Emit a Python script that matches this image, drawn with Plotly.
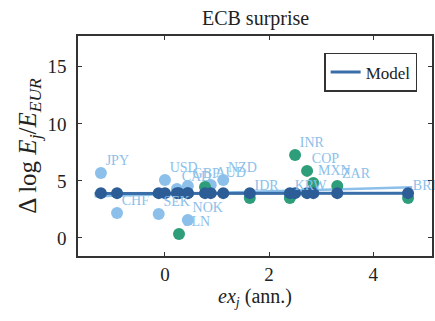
import plotly.graph_objects as go

# Developed-market currencies (light blue)
dm_names = ["JPY", "CHF", "SEK", "USD", "CAD", "GBP", "NOK", "AUD", "NZD"]
dm_x = [-1.23, -0.92, -0.12, 0.00, 0.23, 0.44, 0.44, 0.88, 1.12]
dm_y = [5.70, 2.19, 2.11, 5.09, 4.30, 4.56, 1.58, 4.65, 5.09]

# Emerging-market currencies (green)
em_names = ["PLN", "", "IDR", "KRW", "INR", "COP", "MXN", "ZAR", "BRL"]
em_x = [0.27, 0.77, 1.63, 2.40, 2.50, 2.73, 2.85, 3.31, 4.67]
em_y = [0.35, 4.47, 3.51, 3.51, 7.28, 5.88, 4.82, 4.56, 3.51]

# Model predictions (dark blue)
model_y_level = 3.93

# Fitted lines (endpoints)
line_x = [-1.35, 4.75]
model_line_y = [3.90, 3.93]
data_line_y = [3.65, 4.45]

C_LIGHT = "#8cc0ea"
C_GREEN = "#2e9e7a"
C_DARK = "#2c5d96"
C_LINE = "#3a6ea8"

all_x = dm_x + em_x
all_y = dm_y + em_y
all_names = dm_names + em_names

fig = go.Figure()
fig.add_trace(go.Scatter(x=line_x, y=data_line_y, mode="lines",
                         line=dict(color=C_LIGHT, width=2.5), showlegend=False))
fig.add_trace(go.Scatter(x=line_x, y=model_line_y, mode="lines",
                         line=dict(color=C_LINE, width=3), name="Model"))
fig.add_trace(go.Scatter(x=dm_x, y=dm_y, mode="markers",
                         marker=dict(color=C_LIGHT, size=12), showlegend=False))
fig.add_trace(go.Scatter(x=em_x, y=em_y, mode="markers",
                         marker=dict(color=C_GREEN, size=12), showlegend=False))
fig.add_trace(go.Scatter(x=all_x, y=[model_y_level] * len(all_x), mode="markers",
                         marker=dict(color=C_DARK, size=12), showlegend=False))
fig.add_trace(go.Scatter(x=all_x, y=all_y, mode="markers+text", text=all_names,
                         textposition="top right",
                         textfont=dict(family="Liberation Serif", size=14, color=C_LIGHT),
                         marker=dict(color="rgba(0,0,0,0)", size=6), showlegend=False,
                         cliponaxis=False))

axis_common = dict(showline=True, linecolor="#333333", linewidth=1.5, mirror="ticks",
                   ticks="inside", ticklen=4, tickcolor="#333333", tickwidth=1,
                   showgrid=False, zeroline=False, automargin=False,
                   tickfont=dict(family="Liberation Serif", size=19, color="#222222"))

fig.update_layout(
    width=435, height=321,
    margin=dict(l=78, r=3, t=36, b=65),
    paper_bgcolor="white", plot_bgcolor="white",
    title=dict(text="ECB surprise", x=0.5875, xanchor="center", y=0.945, yanchor="middle",
               font=dict(family="Liberation Serif", size=20, color="#222222")),
    xaxis=dict(range=[-1.67, 5.13], tickvals=[0, 2, 4],
               title=dict(text="<i>ex<sub>j</sub></i> (ann.)", standoff=2,
                          font=dict(family="Liberation Serif", size=20, color="#222222")),
               **axis_common),
    yaxis=dict(range=[-1.58, 17.7], tickvals=[0, 5, 10, 15], ticklabelstandoff=6,
               title=dict(text="Δ log <i>E<sub>j</sub></i>/<i>E<sub>EUR</sub></i>", standoff=4,
                          font=dict(family="Liberation Serif", size=25, color="#222222")),
               **axis_common),
    legend=dict(x=0.958, xanchor="right", y=0.923, yanchor="top",
                bordercolor="#333333", borderwidth=1.5, bgcolor="white",
                font=dict(family="Liberation Serif", size=17, color="#222222")),
    showlegend=True,
)

fig.write_html("out.html", config={"displayModeBar": False},
               post_script="document.body.style.margin='0';")
